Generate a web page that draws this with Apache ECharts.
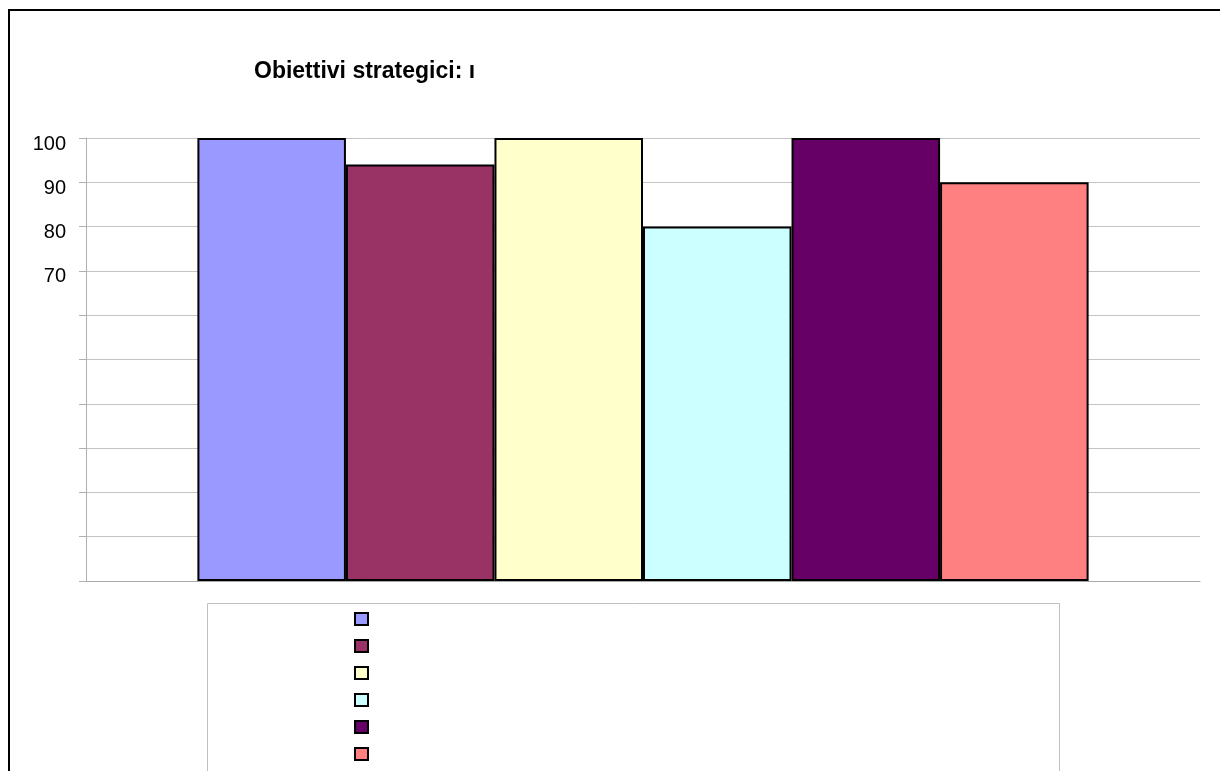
<!DOCTYPE html>
<html>
<head>
<meta charset="utf-8">
<script src="https://cdn.jsdelivr.net/npm/echarts@6/dist/echarts.min.js"></script>
<style>
  html, body { margin: 0; padding: 0; background: #fff; }
  #chart { width: 1220px; height: 771px; }
</style>
</head>
<body>
<div id="chart"></div>
<script>
// dati del grafico
var categories = ['Obiettivi'];
var seriesNames = ['Serie 1', 'Serie 2', 'Serie 3', 'Serie 4', 'Serie 5', 'Serie 6'];
var seriesValues = [100, 94, 100, 80, 100, 90];
var seriesColors = ['#9999FF', '#993366', '#FFFFCC', '#CCFFFF', '#660066', '#FF8080'];
var yTickLabels = [70, 80, 90, 100];

var chart = echarts.init(document.getElementById('chart'));

var series = seriesNames.map(function (name, i) {
  return {
    name: name,
    type: 'bar',
    data: [seriesValues[i]],
    barGap: 0,
    barCategoryGap: '20%',
    itemStyle: { color: seriesColors[i], borderColor: '#000', borderWidth: 2 }
  };
});

var option = {
  animation: false,
  backgroundColor: '#fff',
  textStyle: { fontFamily: 'Liberation Sans, Arial, sans-serif' },
  title: {
    text: 'Obiettivi strategici: ı',
    left: 254,
    top: 60,
    padding: 0,
    textStyle: { fontSize: 23, fontWeight: 'bold', color: '#000', fontFamily: 'Liberation Sans, Arial, sans-serif' }
  },
  legend: {
    orient: 'vertical',
    left: 354,
    top: 612,
    padding: 0,
    itemWidth: 13,
    itemHeight: 12,
    itemGap: 13,
    icon: 'rect',
    formatter: function () { return ''; },
    data: seriesNames
  },
  grid: { left: 86, right: 20, top: 138, bottom: 190 },
  xAxis: {
    type: 'category',
    data: categories,
    axisLine: { lineStyle: { color: '#a8a8a8' } },
    axisTick: { length: 5, lineStyle: { color: '#a8a8a8' } },
    axisLabel: { show: false }
  },
  yAxis: {
    type: 'value',
    min: 0,
    max: 100,
    interval: 10,
    axisLine: { show: true, lineStyle: { color: '#b0b0b0' } },
    axisTick: { show: true, length: 7, lineStyle: { color: '#b0b0b0' } },
    splitLine: { lineStyle: { color: '#c4c4c4' } },
    axisLabel: {
      margin: 20,
      fontSize: 20,
      color: '#000',
      verticalAlign: 'top',
      lineHeight: 12,
      formatter: function (v) { return yTickLabels.indexOf(v) >= 0 ? String(v) : ''; }
    }
  },
  graphic: [
    {
      type: 'rect',
      shape: { x: 9, y: 10, width: 1300, height: 900 },
      style: { fill: 'none', stroke: '#000', lineWidth: 2 },
      silent: true
    },
    {
      type: 'rect',
      z: -1,
      shape: { x: 207.5, y: 603.5, width: 852, height: 300 },
      style: { fill: '#fff', stroke: '#c0c0c0', lineWidth: 1 },
      silent: true
    }
  ],
  series: series
};

chart.setOption(option);
</script>
</body>
</html>
